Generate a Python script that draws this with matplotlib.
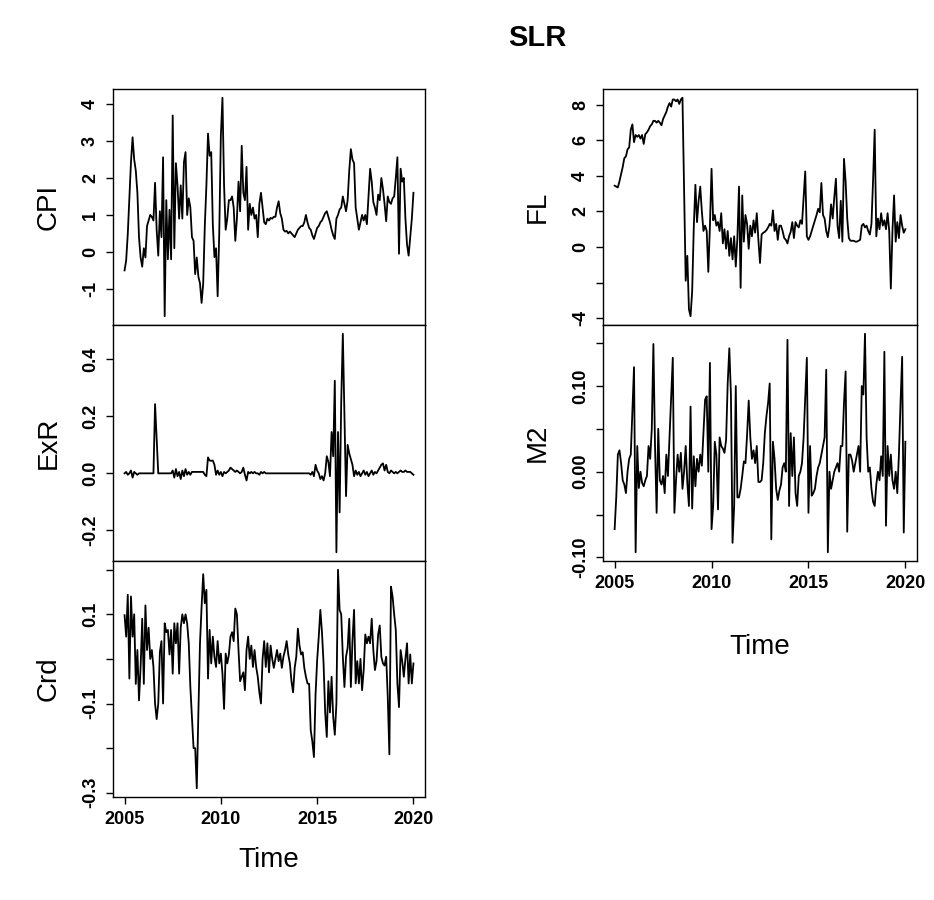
import numpy as np
import matplotlib
matplotlib.use("Agg")
import matplotlib.pyplot as plt

# monthly series, Jan 2005 .. Jan 2020
cpi = [-0.5, -0.23, 0.48, 1.45, 2.43, 3.1, 2.5, 2.2, 1.6, 0.4,
       -0.15, -0.4, 0.1, -0.15, 0.7, 0.85, 1.0, 0.95, 0.85, 1.87,
       0.6, -0.1, 1.1, 0.4, 2.56, -1.74, 1.4, -0.2, 1.14, -0.2,
       3.69, 0.1, 2.4, 1.8, 0.9, 1.8, 0.9, 2.43, 2.7, 1.0,
       1.45, 1.2, 0.4, 0.3, -0.6, -0.15, -0.67, -0.85, -1.38, -0.85,
       0.7, 1.8, 3.2, 2.6, 2.7, 0.74, -0.14, 0.1, -1.2, 0.5,
       3.14, 4.17, 1.8, 0.6, 0.9, 1.4, 1.4, 1.5, 1.2, 0.3,
       0.9, 1.9, 1.1, 2.87, 1.6, 1.4, 2.3, 0.6, 1.3, 1.0,
       1.2, 0.9, 1.0, 0.4, 1.3, 1.6, 1.2, 0.8, 0.75, 0.9,
       0.85, 0.92, 0.9, 0.95, 0.95, 1.2, 1.37, 1.05, 0.9, 0.6,
       0.55, 0.57, 0.5, 0.55, 0.5, 0.45, 0.4, 0.5, 0.6, 0.65,
       0.7, 0.7, 0.8, 1.0, 0.8, 0.65, 0.6, 0.45, 0.35, 0.5,
       0.65, 0.7, 0.8, 0.85, 0.95, 1.05, 1.1, 0.95, 0.8, 0.6,
       0.45, 0.35, 0.9, 1.0, 1.15, 1.2, 1.5, 1.3, 1.1, 1.4,
       2.2, 2.78, 2.5, 2.4, 1.2, 0.9, 0.6, 0.8, 1.0, 0.85,
       1.0, 0.75, 1.5, 2.25, 1.9, 1.35, 1.2, 1.0, 1.55, 1.4,
       2.0, 1.7, 1.3, 0.83, 1.5, 1.35, 1.3, 1.45, 1.5, 2.0,
       2.56, -0.05, 2.25, 1.9, 2.0, 0.9, 0.2, -0.1, 0.4, 0.9,
       1.6]

exr = [0, 0.005, -0.005, 0, 0.01, -0.015, 0.005, 0, -0.005, 0,
       0, 0, 0, 0, 0, 0, 0, 0, 0, 0.243,
       0.12, 0, 0, 0, 0, 0, 0, 0, 0, 0,
       0.01, -0.015, 0.015, -0.01, 0.005, -0.02, 0.01, -0.01, 0.015, -0.005,
       0.005, -0.005, 0.005, 0.005, 0.005, 0.005, 0.005, 0.005, 0.005, 0.005,
       -0.005, -0.01, 0.056, 0.045, 0.044, 0.045, 0.03, -0.005, 0.01, -0.005,
       0.005, -0.01, 0.005, 0, 0.005, 0.01, 0.02, 0.015, 0.01, 0.005,
       0.01, 0.005, 0, 0.005, 0.02, -0.005, -0.025, 0.005, 0, 0.005,
       0, 0.005, 0, 0, -0.005, 0.005, 0, 0.005, 0, 0,
       0, 0, 0, 0, 0, 0, 0, 0, 0, 0,
       0, 0, 0, 0, 0, 0, 0, 0, 0, 0,
       0, 0, 0, 0, 0, 0, -0.005, 0.005, -0.01, 0.03,
       0.01, 0, -0.02, -0.01, -0.025, 0, 0.06, 0.04, -0.01, 0.145,
       0.06, 0.325, -0.277, 0.145, -0.137, 0.25, 0.49, 0.2, -0.08, 0.1,
       0.07, 0.05, 0.03, -0.01, 0.01, -0.005, 0.005, -0.01, 0, 0.01,
       -0.005, 0.005, -0.01, 0, 0.01, -0.005, 0.005, 0, 0.01, 0.02,
       0.03, 0.035, 0.01, 0.03, 0.005, 0, 0.01, 0.005, 0, 0.005,
       0, 0.005, 0.01, 0.005, 0.005, 0.01, 0.005, 0.005, 0.005, 0,
       -0.005]

crd = [0.098, 0.05, 0.144, -0.044, 0.14, 0.05, 0.1, -0.056, 0.02, -0.093,
       -0.018, 0.09, -0.056, 0.12, 0.02, 0.07, 0.0, 0.02, -0.018, -0.1,
       -0.135, -0.1, 0.015, 0.04, -0.1, 0.08, 0.06, 0.065, 0.01, 0.065,
       -0.033, 0.08, 0.035, 0.08, -0.033, 0.07, 0.1, 0.08, 0.1, 0.08,
       0.035, -0.063, -0.13, -0.2, -0.2, -0.29, -0.12, 0.035, 0.117, 0.19,
       0.125, 0.155, -0.044, 0.065, -0.01, 0.05, 0.005, -0.018, 0.04, -0.01,
       0.012, -0.033, -0.112, 0.012, -0.01, 0.01, 0.05, 0.06, 0.04, 0.113,
       0.1, 0.02, -0.05, -0.04, -0.03, -0.07, 0.02, 0.05, 0.0, 0.03,
       -0.018, 0.02, -0.018, -0.04, -0.075, -0.1, 0.0, 0.04, -0.018, 0.035,
       -0.03, 0.03, 0.0, -0.02, 0.0, 0.02, -0.005, 0.012, -0.02, 0.005,
       0.02, 0.04, 0.01, -0.01, -0.05, -0.075, -0.02, 0.005, 0.068, 0.03,
       0.01, 0.015, -0.02, -0.04, -0.055, -0.056, -0.16, -0.185, -0.22, -0.08,
       -0.003, 0.05, 0.11, 0.06, -0.01, -0.12, -0.175, -0.05, -0.12, -0.04,
       -0.13, -0.17, -0.1, 0.2, 0.11, 0.1, 0.005, -0.063, 0.005, 0.025,
       0.09, -0.063, 0.04, 0.11, -0.055, -0.005, -0.055, 0.0, -0.07, -0.025,
       0.055, 0.035, 0.05, 0.035, 0.09, 0.02, -0.025, -0.005, 0.055, 0.075,
       0.005, -0.01, -0.015, 0.005, -0.085, -0.214, 0.162, 0.14, 0.1, 0.065,
       -0.055, -0.108, 0.02, -0.005, -0.04, 0.0, 0.035, -0.055, 0.01, -0.055,
       -0.01]

fl = [3.45, 3.4, 3.35, 3.7, 4.1, 4.5, 5.0, 5.1, 5.5, 5.6,
      6.6, 6.9, 5.9, 6.3, 6.2, 6.3, 6.1, 6.3, 5.8, 6.35,
      6.45, 6.6, 6.8, 6.9, 7.1, 7.1, 7.0, 7.1, 7.0, 6.85,
      7.2, 7.4, 7.6, 7.9, 8.1, 7.9, 8.3, 8.3, 8.2, 8.3,
      8.05, 8.3, 8.4, 3.4, -1.9, -0.5, -3.5, -3.9, -2.5, 1.1,
      3.5, 1.4, 2.6, 3.4, 2.0, 0.9, 1.2, 0.9, -1.4, 1.2,
      4.4, 1.5, 1.8, 1.2, 1.4, 0.9, 1.9, 0.2, 1.0, -0.1,
      0.9, -0.5, 0.5, -0.7, 0.6, -1.1, 0.5, 3.4, -2.3, 2.9,
      0.3, 1.8, 1.3, -0.1, 1.2, 0.6, 1.5, 0.8, 1.9, 0.4,
      -0.9, 0.7, 0.8, 0.85, 0.95, 1.1, 1.3, 1.2, 2.06, 0.9,
      1.3, 0.4, 1.2, 1.2, 0.9, 0.5, 0.4, 0.2, 0.6, 0.85,
      1.4, 0.5, 1.4, 1.2, 1.1, 1.5, 1.3, 2.8, 4.25, 0.6,
      0.4, 0.6, 0.9, 1.2, 1.5, 1.8, 2.15, 1.95, 3.6, 1.8,
      1.6, 0.9, 0.55, 1.2, 2.4, 1.6, 2.8, 3.84, 1.2, 0.5,
      2.6, 0.3, 4.96, 3.7, 1.6, 0.5, 0.35, 0.35, 0.35, 0.3,
      0.3, 0.35, 0.4, 1.2, 1.3, 1.1, 1.2, 0.9, 0.7, 1.3,
      3.75, 6.6, 0.6, 1.6, 1.0, 1.9, 1.2, 1.5, 1.0, 1.9,
      0.9, -2.34, 0.9, 2.9, 0.3, 1.4, 0.5, 1.8, 1.2, 0.8,
      1.0]

m2 = [-0.067, -0.03, 0.02, 0.025, 0.01, -0.01, -0.015, -0.025, 0.0, 0.015,
      0.02, 0.072, 0.122, -0.094, 0.03, -0.019, 0.0, -0.013, -0.017, -0.01,
      -0.005, 0.03, 0.015, 0.05, 0.149, 0.03, -0.048, 0.05, -0.01, -0.015,
      -0.005, -0.025, 0.02, -0.005, 0.04, 0.088, 0.133, -0.048, -0.01, 0.02,
      0.0, 0.022, -0.02, 0.0, 0.03, -0.013, -0.04, 0.076, -0.043, 0.018,
      -0.017, 0.015, 0.0, 0.02, 0.007, 0.045, 0.084, 0.088, 0.0, 0.127,
      -0.067, -0.04, 0.035, 0.02, -0.044, 0.04, 0.03, 0.027, 0.022, 0.037,
      0.103, 0.144, 0.09, -0.083, -0.04, 0.1, -0.03, -0.03, -0.02, -0.005,
      0.012, 0.01, 0.043, 0.083, 0.04, 0.015, 0.025, 0.01, 0.03, -0.012,
      -0.012, -0.01, 0.01, 0.045, 0.065, 0.08, 0.103, -0.079, 0.035, 0.015,
      -0.02, -0.033, -0.022, -0.015, 0.005, 0.01, 0.0, 0.154, -0.04, 0.045,
      -0.005, 0.04, -0.025, -0.04, -0.005, 0.0, 0.01, 0.04, 0.087, 0.133,
      -0.048, 0.03, -0.028, -0.025, -0.02, -0.005, 0.005, 0.01, 0.02, 0.03,
      0.04, 0.119, -0.094, 0.0, -0.02, -0.01, 0.0, 0.005, 0.01, 0.0,
      0.03, 0.03, 0.08, 0.117, -0.07, 0.02, 0.02, 0.013, 0.0, 0.01,
      0.02, 0.03, 0.0, 0.1, 0.09, 0.161, 0.04, 0.0, 0.005, -0.02,
      -0.035, -0.04, -0.015, 0.0, -0.01, 0.018, -0.005, 0.14, -0.063, 0.03,
      -0.005, 0.02, -0.01, -0.02, 0.0, -0.025, 0.02, 0.08, 0.134, -0.071,
      0.035]

months = 2005 + np.arange(len(cpi)) / 12
year_ticks = [2005, 2010, 2015, 2020]

plt.rcParams['font.family'] = ['Liberation Sans', 'DejaVu Sans']
narrow = ['Liberation Sans Narrow', 'Liberation Sans', 'DejaVu Sans']

fig = plt.figure(figsize=(9.34, 9.0), dpi=100)


def panel(left, top, width, y, name, ticks, labels, time_y=None):
    h = 236 / 900
    ax = fig.add_axes([left / 934, 1 - top / 900 - h, width / 934, h])
    ax.plot(months, y, color='black', lw=1.3)
    lo, hi = min(y), max(y)
    pad = 0.04 * (hi - lo)
    ax.set_ylim(lo - pad, hi + pad)
    ax.set_xlim(2005 - 0.6, 2020 + 0.6)
    ax.set_yticks(ticks)
    ax.set_yticklabels(labels, rotation=90, va='center', family=narrow,
                       fontsize=13, fontweight='bold')
    ax.set_ylabel(name, fontsize=20)
    ax.yaxis.set_label_coords(-0.165, 0.5)
    ax.tick_params(direction='out', length=5, width=1, pad=5)
    for s in ax.spines.values():
        s.set_linewidth(1)
    if time_y is not None:
        ax.set_xticks(year_ticks)
        ax.set_xticklabels([str(t) for t in year_ticks], family=narrow,
                           fontsize=13, fontweight='bold')
        ax.set_xlabel('Time', fontsize=20)
        ax.xaxis.set_label_coords(0.5, time_y)
    else:
        ax.set_xticks([])
    return ax


panel(113, 89, 312, cpi, 'CPI', [-1, 0, 1, 2, 3, 4], ['-1', '0', '1', '2', '3', '4'])
panel(113, 325, 312, exr, 'ExR', [-0.2, 0.0, 0.2, 0.4], ['-0.2', '0.0', '0.2', '0.4'])
panel(113, 561, 312, crd, 'Crd', [-0.3, -0.2, -0.1, 0.0, 0.1, 0.2],
      ['-0.3', '', '-0.1', '', '0.1', ''], time_y=-0.21)
panel(603, 89, 314, fl, 'FL', [-4, -2, 0, 2, 4, 6, 8], ['-4', '', '0', '2', '4', '6', '8'])
panel(603, 325, 314, m2, 'M2', [-0.10, -0.05, 0.0, 0.05, 0.10, 0.15],
      ['-0.10', '', '0.00', '', '0.10', ''], time_y=-0.31)

fig.text(0.575, 0.958, 'SLR', fontsize=21, fontweight='bold', ha='center', va='center',
         family=narrow)

fig.savefig('out.png', dpi=100)
